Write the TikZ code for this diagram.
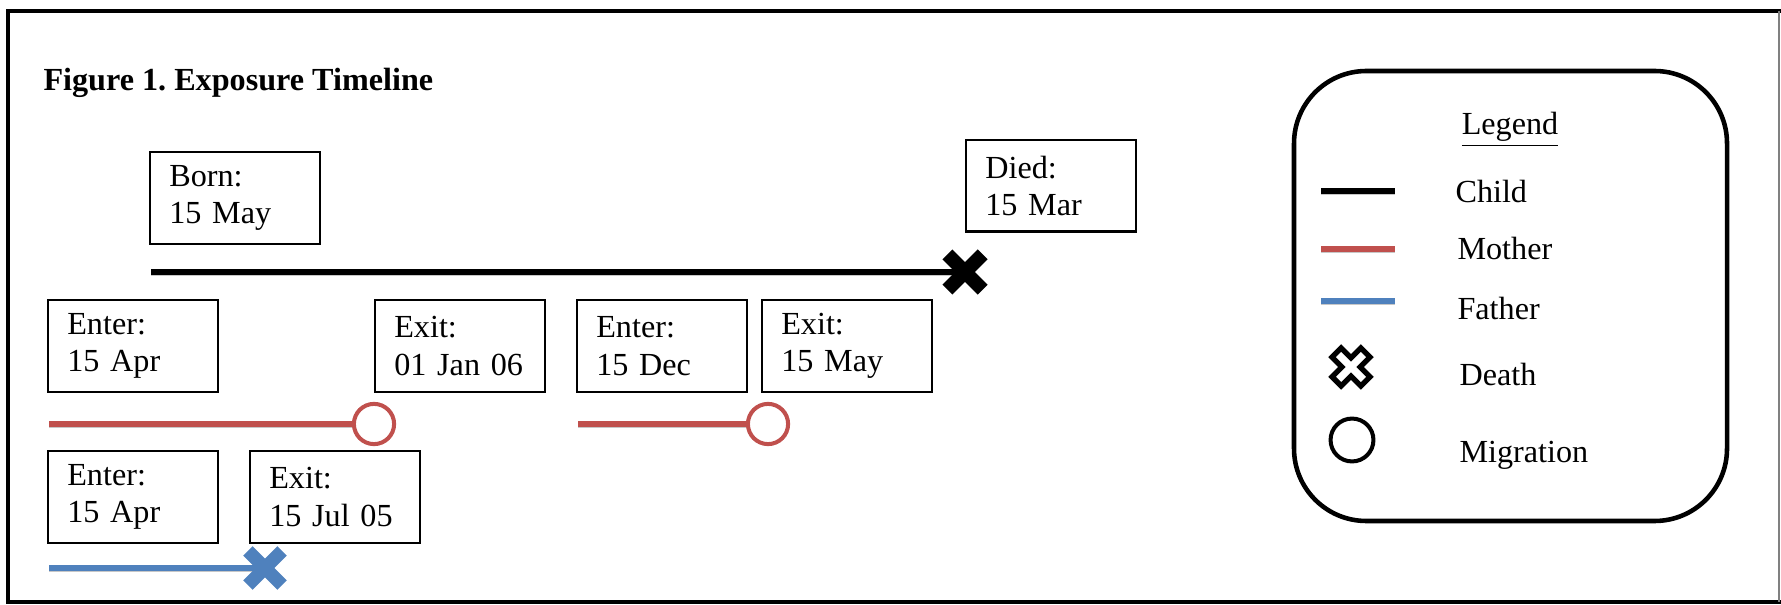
\documentclass[tikz,border=0pt]{standalone}
\usepackage{fontspec}
\setmainfont{Liberation Serif}
\frenchspacing
\definecolor{childcol}{RGB}{0,0,0}
\definecolor{mothercol}{RGB}{192,80,77}
\definecolor{fathercol}{RGB}{79,129,189}

% cross marker: #1 position, #2 fill, #3 outline options, #4 half arm width, #5 half arm length
\newcommand{\deathcross}[5]{%
  \draw[#3, fill=#2, line join=miter, shift={(#1)}, rotate=45]
    (#4,#5) -- (#4,#4) -- (#5,#4) -- (#5,-#4) -- (#4,-#4) -- (#4,-#5)
    -- (-#4,-#5) -- (-#4,-#4) -- (-#5,-#4) -- (-#5,#4) -- (-#4,#4) -- (-#4,#5) -- cycle;}

\begin{document}
\begin{tikzpicture}[x=0.373pt, y=-0.373pt,
    datebox/.style={draw, line width=0.8pt, text width=49pt, align=left,
        inner xsep=7.3pt, inner ysep=0pt, minimum height=34pt,
        font=\fontsize{12pt}{14pt}\selectfont},
    legtext/.style={anchor=base west, inner sep=0pt, font=\fontsize{12pt}{14pt}\selectfont},
    timeline/.style={line width=#1, line cap=butt,
        preaction={draw=black!22, transform canvas={yshift=-1.3pt}}},
    migr/.style={circle, draw=#1, line width=1.5pt, fill=white, minimum size=15pt, inner sep=0pt}]
    \useasboundingbox (0,0) rectangle (1781,605);

    % --- Frame ---
    \draw[line width=1.8pt] (1781,11) -- (8,11) -- (8,602) -- (1781,602);
    \draw[gray, line width=0.4pt] (1779,11) -- (1779,602);

    % --- Title ---
    \node[anchor=base west, inner sep=0pt, font=\fontsize{12pt}{14pt}\selectfont\bfseries]
        (title) at (43,91) {Figure 1. Exposure Timeline};

    % --- Child ---
    \node[datebox] (born) at (235,198) {Born:\\15 May};
    \node[datebox] (died) at (1051,186) {Died:\\15 Mar};
    \coordinate (childStart) at (151,272);
    \coordinate (childDeath) at (965,272);
    \draw[timeline=2.6pt, childcol] (childStart) -- (childDeath);
    \deathcross{childDeath}{childcol}{draw=none}{2.6pt}{9.3pt}

    % --- Mother: two stays ---
    \node[datebox] (mEnterA) at (133,346) {Enter:\\15 Apr};
    \node[datebox] (mExitA) at (460,346) {Exit:\\01 Jan 06};
    \node[datebox] (mEnterB) at (662,346) {Enter:\\15 Dec};
    \node[datebox] (mExitB) at (847,346) {Exit:\\15 May};
    \coordinate (mStartA) at (49,424);
    \coordinate (mStartB) at (578,424);
    \node[migr=mothercol] (mMigA) at (374,424) {};
    \node[migr=mothercol] (mMigB) at (768,424) {};
    \draw[timeline=2.2pt, mothercol] (mStartA) -- (mMigA);
    \draw[timeline=2.2pt, mothercol] (mStartB) -- (mMigB);

    % --- Father ---
    \node[datebox] (fEnter) at (133,497) {Enter:\\15 Apr};
    \node[datebox] (fExit) at (335,497) {Exit:\\15 Jul 05};
    \coordinate (fStart) at (49,568);
    \coordinate (fDeath) at (265,568);
    \draw[timeline=2.2pt, fathercol] (fStart) -- (fDeath);
    \deathcross{fDeath}{fathercol}{draw=none}{2.5pt}{9pt}

    % --- Legend ---
    \draw[line width=1.7pt, rounded corners=27pt] (1294,71) rectangle (1727,521);
    \node[legtext, anchor=base] (legTitle) at (1510,135) {\underline{Legend}};
    \coordinate (legA) at (1321,191); \coordinate (legA') at (1395,191);
    \coordinate (legB) at (1321,249); \coordinate (legB') at (1395,249);
    \coordinate (legC) at (1321,301); \coordinate (legC') at (1395,301);
    \draw[timeline=1.9pt, childcol] (legA) -- (legA');
    \draw[timeline=1.9pt, mothercol] (legB) -- (legB');
    \draw[timeline=1.9pt, fathercol] (legC) -- (legC');
    \coordinate (legX) at (1351,367);
    \deathcross{legX}{white}{draw=black, line width=2pt}{2.4pt}{7.6pt}
    \node[migr=black, minimum size=16pt] (legMig) at (1352,440) {};
    \node[legtext] (legChild) at (1455,203) {Child};
    \node[legtext] (legMother) at (1457,260) {Mother};
    \node[legtext] (legFather) at (1457,320) {Father};
    \node[legtext] (legDeath) at (1459,386) {Death};
    \node[legtext] (legMigration) at (1459,462) {Migration};
\end{tikzpicture}
\end{document}
